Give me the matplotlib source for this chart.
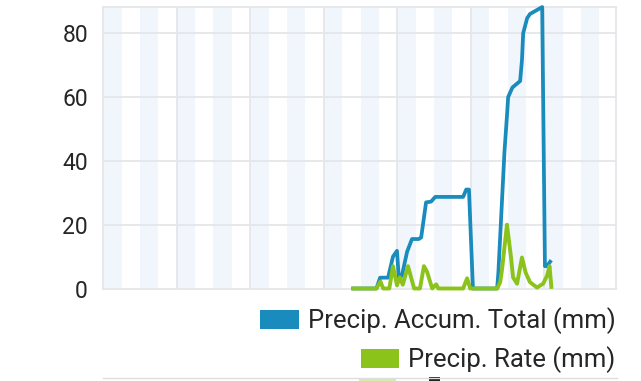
import matplotlib
matplotlib.use("Agg")
import matplotlib.pyplot as plt
from matplotlib.patches import Patch, Rectangle
from matplotlib.lines import Line2D

plt.rcParams['font.family'] = ['Roboto', 'DejaVu Sans']

# ---- data (hours from start of x-range) ----
accum_hours = [81.6, 89.2, 90.4, 93.0, 94.6, 95.9, 96.5, 97.5, 99.2, 100.8, 103.0,
               103.8, 105.4, 107.0, 108.4, 117.5, 118.5, 119.4, 120.7,
               128.6, 129.0, 131.0, 131.8, 132.2, 133.6, 136.1, 136.7, 137.1,
               138.4, 139.3, 143.3, 144.2, 144.9, 145.9]
accum_vals = [0, 0, 3.4, 3.4, 10, 11.8, 3.2, 4.0, 11.5, 15.5, 15.5,
              16.0, 27.0, 27.2, 28.7, 28.7, 31.0, 31.0, 0,
              0, 5, 43, 54, 60, 63, 65, 71.5, 80,
              84.7, 86.0, 88.2, 7.0, 7.0, 8.4]

rate_hours = [81.6, 89.2, 90.5, 91.4, 93.4, 94.6, 95.9, 96.8, 97.8, 99.5, 101.5,
              103.4, 104.7, 105.7, 107.4, 108.7, 109.4, 117.5, 118.8, 119.8,
              128.6, 129.6, 130.2, 131.8, 133.1, 133.8, 135.1, 136.7, 137.9,
              139.3, 141.6, 143.6, 144.9, 145.7, 146.3]
rate_vals = [0, 0, 2.2, 0, 0, 7.0, 1.0, 3.5, 1.2, 7.0, 0,
             0, 7.0, 5.3, 0, 1.3, 0, 0, 3.2, 0,
             0, 2.0, 6.0, 20.0, 10.0, 3.5, 1.5, 9.7, 5.0,
             2.0, 0.3, 1.5, 4.0, 7.0, 0.5]

yticks = [0, 20, 40, 60, 80]
day_lines = [24, 48, 72, 96, 120, 144]
x_max = 167.4
y_max = 88.2

series_labels = ['Precip. Accum. Total (mm)', 'Precip. Rate (mm)']
blue = '#1a8bbd'
green = '#8cc31a'

fig = plt.figure(figsize=(6.41, 3.81), dpi=100)
ax = fig.add_axes([103.2 / 641, 92.5 / 381, (616 - 103.2) / 641, (288.5 - 7) / 381])

# 6-hour alternating shading
h = 0
while h < x_max:
    ax.axvspan(h, min(h + 6, x_max), color='#f0f6fc', lw=0, zorder=0)
    h += 12

for v in yticks[1:]:
    ax.axhline(v, color='#e4e6e9', lw=1.3, zorder=1)
for d in day_lines:
    ax.axvline(d, color='#e4e6e9', lw=1.3, zorder=1)

ax.plot(accum_hours, accum_vals, color=blue, lw=2.7, zorder=3, clip_on=False,
        solid_joinstyle='round')
ax.plot(rate_hours, rate_vals, color=green, lw=2.8, zorder=4, clip_on=False,
        solid_joinstyle='round')

ax.set_xlim(0, x_max)
ax.set_ylim(0, y_max)
ax.set_yticks(yticks)
ax.set_yticklabels([str(t) for t in yticks], fontsize=16.5, color='#262626')
ax.tick_params(axis='y', length=0, pad=11)
ax.set_xticks([])
for s in ax.spines.values():
    s.set_color('#e4e6e9')
    s.set_linewidth(1.3)

# legends (right-aligned entries)
legend_pos = [(321, blue), (360, green)]
for lab, (ypix, col) in zip(series_labels, legend_pos):
    lg = fig.legend(handles=[Patch(facecolor=col, edgecolor='none')], labels=[lab],
                    loc='center right', bbox_to_anchor=(615.5 / 641, 1 - ypix / 381),
                    bbox_transform=fig.transFigure, frameon=False, fontsize=18.5,
                    handlelength=1.5, handleheight=0.72, handletextpad=0.35,
                    borderpad=0, borderaxespad=0, labelcolor='#262626')

# cut-off elements at the bottom edge
fig.add_artist(Line2D([103 / 641, 617 / 641], [3 / 381, 3 / 381], color='#dddddd',
                      lw=1.0, transform=fig.transFigure))
fig.add_artist(Rectangle((359 / 641, 0), 37 / 641, 2 / 381, color='#d5ecaa',
                         transform=fig.transFigure, lw=0))
fig.add_artist(Rectangle((429 / 641, 0), 11 / 641, 4 / 381, color='#222222',
                         transform=fig.transFigure, lw=0))

fig.savefig('out.png', dpi=100)
